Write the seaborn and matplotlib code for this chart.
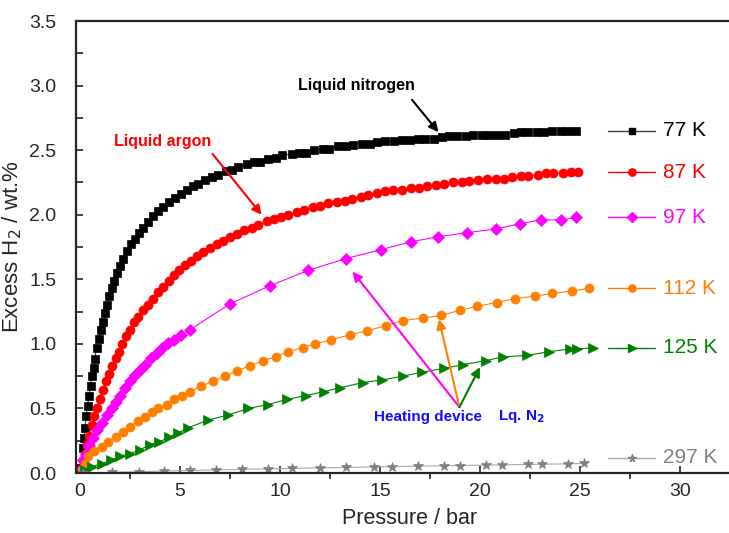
import numpy as np
import seaborn as sns
import matplotlib.pyplot as plt
from matplotlib.ticker import MultipleLocator

# datos (presion en bar, exceso H2 en wt.%)
p77 = [0.0, 0.13, 0.2, 0.25, 0.3, 0.38, 0.45, 0.53, 0.58, 0.7, 0.73, 0.83, 0.95, 1.05, 1.17, 1.25,
       1.37, 1.47, 1.58, 1.72, 1.83, 2.0, 2.17, 2.37, 2.53, 2.75, 2.97, 3.17, 3.38, 3.63, 3.88, 4.17,
       4.45, 4.75, 5.05, 5.33, 5.67, 5.92, 6.25, 6.62, 6.92, 7.28, 7.62, 7.88, 8.33, 8.7, 9.0, 9.38,
       9.8, 10.08, 10.58, 10.95, 11.3, 11.7, 12.13, 12.45, 12.92, 13.28, 13.67, 14.08, 14.5, 14.87,
       15.25, 15.7, 16.08, 16.5, 16.88, 17.25, 17.7, 18.08, 18.45, 18.87, 19.28, 19.67, 20.08, 20.45,
       20.83, 21.25, 21.7, 22.05, 22.42, 22.83, 23.2, 23.62, 24.03, 24.42, 24.8]
q77 = [0.04, 0.19, 0.27, 0.35, 0.44, 0.52, 0.60, 0.67, 0.75, 0.81, 0.88, 0.97, 1.04, 1.11, 1.17, 1.24,
       1.30, 1.37, 1.43, 1.49, 1.55, 1.60, 1.66, 1.72, 1.77, 1.81, 1.86, 1.90, 1.94, 1.99, 2.03, 2.06,
       2.10, 2.13, 2.16, 2.19, 2.22, 2.24, 2.27, 2.29, 2.31, 2.34, 2.35, 2.37, 2.39, 2.41, 2.41, 2.43,
       2.44, 2.46, 2.47, 2.48, 2.48, 2.50, 2.51, 2.51, 2.53, 2.53, 2.54, 2.55, 2.55, 2.56,
       2.57, 2.57, 2.58, 2.58, 2.59, 2.59, 2.59, 2.60, 2.61, 2.61, 2.61, 2.62, 2.62, 2.62,
       2.62, 2.62, 2.63, 2.64, 2.64, 2.64, 2.64, 2.65, 2.65, 2.65, 2.65]

p87 = [0.08, 0.17, 0.25, 0.33, 0.45, 0.58, 0.7, 0.83, 1.0, 1.13, 1.28, 1.45, 1.62, 1.78, 1.95, 2.12,
       2.3, 2.5, 2.72, 2.92, 3.17, 3.38, 3.63, 3.88, 4.17, 4.45, 4.72, 4.97, 5.25, 5.55, 5.83, 6.17,
       6.5, 6.83, 7.17, 7.5, 7.83, 8.22, 8.58, 8.92, 9.33, 9.7, 10.03, 10.42, 10.83, 11.2, 11.63, 12.0,
       12.42, 12.83, 13.25, 13.62, 14.03, 14.42, 14.83, 15.25, 15.67, 16.08, 16.53, 16.97, 17.37, 17.8,
       18.22, 18.63, 19.08, 19.47, 19.88, 20.33, 20.78, 21.2, 21.62, 22.03, 22.42, 22.88, 23.28, 23.63,
       24.17, 24.55, 24.92]
q87 = [0.02, 0.10, 0.15, 0.22, 0.29, 0.37, 0.44, 0.50, 0.57, 0.64, 0.71, 0.77, 0.83, 0.89, 0.94, 1.00,
       1.06, 1.11, 1.17, 1.21, 1.26, 1.30, 1.35, 1.40, 1.44, 1.49, 1.53, 1.57, 1.61, 1.64, 1.68, 1.71,
       1.74, 1.77, 1.80, 1.83, 1.85, 1.88, 1.90, 1.92, 1.95, 1.97, 1.98, 2.00, 2.02, 2.04, 2.06, 2.07,
       2.09, 2.10, 2.11, 2.12, 2.14, 2.15, 2.17, 2.18, 2.19, 2.19, 2.21, 2.21, 2.22, 2.23,
       2.24, 2.25, 2.25, 2.26, 2.27, 2.28, 2.28, 2.28, 2.29, 2.30, 2.30, 2.31, 2.32, 2.32,
       2.32, 2.33, 2.33]

p97 = [0.08, 0.17, 0.3, 0.47, 0.63, 0.83, 1.08, 1.33, 1.58, 1.78, 2.0, 2.25, 2.5, 2.75, 3.0, 3.25,
       3.55, 3.83, 4.12, 4.42, 4.72, 5.03, 5.5, 7.5, 9.5, 11.42, 13.3, 15.05, 16.55, 17.92, 19.33,
       20.78, 22.0, 23.03, 24.03, 24.8]
q97 = [0.04, 0.10, 0.15, 0.22, 0.27, 0.33, 0.39, 0.45, 0.50, 0.55, 0.60, 0.66, 0.71, 0.76, 0.80, 0.84,
       0.89, 0.93, 0.97, 1.01, 1.03, 1.07, 1.11, 1.31, 1.45, 1.57, 1.66, 1.73, 1.79, 1.83, 1.86,
       1.89, 1.93, 1.96, 1.96, 1.98]

p112 = [0.08, 0.25, 0.42, 0.7, 1.08, 1.42, 1.78, 2.13, 2.5, 2.88, 3.25, 3.58, 3.92, 4.33, 4.72, 5.12,
        5.5, 6.05, 6.63, 7.25, 7.83, 8.5, 9.15, 9.8, 10.38, 11.13, 11.75, 12.53, 13.5, 14.33, 15.28,
        16.13, 17.17, 18.05, 19.0, 19.83, 20.83, 21.75, 22.75, 23.62, 24.62, 25.47]
q112 = [0.02, 0.07, 0.13, 0.17, 0.20, 0.24, 0.28, 0.32, 0.36, 0.40, 0.43, 0.47, 0.50, 0.53, 0.57, 0.60,
        0.63, 0.67, 0.71, 0.75, 0.79, 0.83, 0.87, 0.90, 0.94, 0.97, 1.00, 1.03, 1.07, 1.10, 1.14,
        1.18, 1.20, 1.22, 1.26, 1.29, 1.32, 1.35, 1.37, 1.39, 1.41, 1.43]

p125 = [0.25, 0.58, 1.08, 1.55, 2.0, 2.5, 3.0, 3.5, 3.97, 4.47, 4.92, 5.4, 6.42, 7.42, 8.42, 9.4,
        10.35, 11.3, 12.2, 13.0, 14.13, 15.08, 16.13, 17.08, 18.2, 19.17, 20.28, 21.17, 22.33, 23.47,
        24.5, 24.87, 25.67]
q125 = [0.02, 0.05, 0.07, 0.10, 0.13, 0.15, 0.18, 0.22, 0.24, 0.28, 0.31, 0.35, 0.41, 0.45, 0.50, 0.53,
        0.57, 0.60, 0.63, 0.66, 0.70, 0.72, 0.75, 0.78, 0.81, 0.84, 0.87, 0.90, 0.91, 0.94,
        0.96, 0.96, 0.97]

p297 = [0.17, 1.6, 2.95, 4.2, 5.5, 6.8, 8.1, 9.4, 10.6, 12.0, 13.3, 14.7, 15.6, 16.9, 18.2, 19.0,
        20.3, 21.1, 22.4, 23.1, 24.4, 25.2]
q297 = [0.0, 0.005, 0.01, 0.015, 0.02, 0.025, 0.028, 0.032, 0.035, 0.04, 0.043, 0.047, 0.05, 0.053,
        0.056, 0.058, 0.061, 0.063, 0.066, 0.068, 0.071, 0.075]

temps = ['77 K', '87 K', '97 K', '112 K', '125 K', '297 K']
series = [(p77, q77), (p87, q87), (p97, q97), (p112, q112), (p125, q125), (p297, q297)]
colores = ['black', '#FF0000', '#FF00FF', '#FF8000', '#008000', '#808080']
lineas = ['#404040', '#FF0000', '#FF00FF', '#FF8000', '#008000', '#A8A8A8']
marcas = ['s', 'o', 'D', 'o', '>', '*']
tamanos = [6, 6.5, 6, 6.5, 7, 7]

sns.set_style('ticks')
plt.rcParams['font.family'] = ['Liberation Sans', 'DejaVu Sans']

fig = plt.figure(figsize=(7.29, 5.33), dpi=100)
ax = fig.add_axes([76 / 729, 60 / 533, 668 / 729, 452 / 533])

for (p, q), c, lc, m, s in zip(series, colores, lineas, marcas, tamanos):
    sns.lineplot(x=p, y=q, ax=ax, color=lc, linewidth=0.8, marker=m, markersize=s,
                 markerfacecolor=c, markeredgecolor=c, markeredgewidth=0.5, sort=False)

# leyenda a mano, alineada con el final de cada curva
for (p, q), t, c, lc, m, s in zip(series, temps, colores, lineas, marcas, tamanos):
    yl = max(q[-1], 0.12)
    ax.plot([26.4, 28.75], [yl, yl], color=lc, linewidth=1)
    ax.plot([27.6], [yl], color=c, marker=m, markersize=s * 0.8, linestyle='none')
    ax.text(29.15, yl, t, color=c, fontsize=15, va='center', ha='left')

# anotaciones
flecha = dict(arrowstyle='-|>', lw=1.5, mutation_scale=14, shrinkA=0, shrinkB=0)
ax.text(13.8, 3.0, 'Liquid nitrogen', fontsize=11.5, fontweight='bold', color='black',
        ha='center', va='center')
ax.annotate('', xy=(17.92, 2.64), xytext=(16.6, 2.89), arrowprops=dict(flecha, color='black'))
ax.text(4.15, 2.57, 'Liquid argon', fontsize=11.5, fontweight='bold', color='#FF0000',
        ha='center', va='center')
ax.annotate('', xy=(9.08, 2.0), xytext=(6.63, 2.47), arrowprops=dict(flecha, color='#FF0000'))
origen = (18.97, 0.51)
for destino, c in [((13.63, 1.56), '#FF00FF'), ((17.95, 1.19), '#FF8000'), ((20.0, 0.82), '#008000')]:
    ax.annotate('', xy=destino, xytext=origen, arrowprops=dict(flecha, color=c))
ax.text(17.4, 0.437, 'Heating device', color='#1010FF', fontsize=11, fontweight='bold',
        ha='center', va='center')
ax.text(22.05, 0.437, 'Lq. N$_\\mathbf{2}$', color='#1010FF', fontsize=11, fontweight='bold',
        ha='center', va='center')

ax.set_xlim(-0.2, 33.2)
ax.set_ylim(0, 3.5)
ax.xaxis.set_major_locator(MultipleLocator(5))
ax.xaxis.set_minor_locator(MultipleLocator(2.5))
ax.yaxis.set_major_locator(MultipleLocator(0.5))
ax.yaxis.set_minor_locator(MultipleLocator(0.25))
ax.set_xticks([0, 5, 10, 15, 20, 25, 30])
ax.set_yticklabels([f'{v:.1f}' for v in ax.get_yticks()])
ax.tick_params(axis='x', which='major', direction='in', length=5, width=1.2, labelsize=14, pad=7)
ax.tick_params(axis='x', which='minor', direction='out', length=4, width=1.2)
ax.tick_params(axis='y', which='both', direction='in', length=5, width=1.2, labelsize=14, pad=14)
for sp in ax.spines.values():
    sp.set_linewidth(1.6)
ax.spines['right'].set_visible(False)

ax.set_xlabel('Pressure / bar', fontsize=15.5, labelpad=6)
ax.set_ylabel('Excess H$_2$ / wt.%', fontsize=16, labelpad=4)

plt.savefig('out.png', dpi=100)
